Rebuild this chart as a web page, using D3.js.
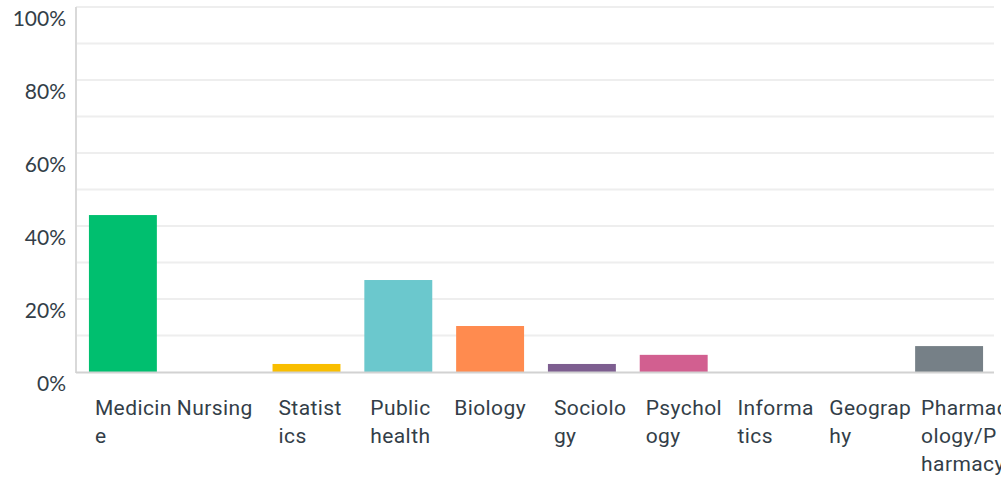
<!DOCTYPE html>
<html>
<head>
<meta charset="utf-8">
<script src="https://cdn.jsdelivr.net/npm/d3@7"></script>
<style>
  body { margin: 0; background: #fff; }
  svg { display: block; }
</style>
</head>
<body>
<svg id="chart" width="1001" height="480"></svg>
<script>
// answer choices and share of respondents (%)
var categories = ["Medicine", "Nursing", "Statistics", "Public health", "Biology",
                  "Sociology", "Psychology", "Informatics", "Geography", "Pharmacology/Pharmacy"];
var values = [43.0, 0, 2.2, 25.2, 12.6, 2.2, 4.7, 0, 0, 7.1];
var colors = ["#00bf6f", "#507cb6", "#f9be00", "#6bc8cd", "#ff8b4f",
              "#7d5e90", "#d25f90", "#abb325", "#f05b24", "#768087"];
var yTicks = [0, 20, 40, 60, 80, 100];

var svg = d3.select("#chart");

var plotLeft = 76, plotRight = 994, plotTop = 7, plotBottom = 372;

var xScale = d3.scaleBand()
  .domain(categories)
  .range([plotLeft + 1, plotRight + 1])
  .paddingInner(0.26)
  .paddingOuter(0.13);

var yScale = d3.scaleLinear()
  .domain([0, 100])
  .range([plotBottom, plotTop]);

//light gridlines every 10%
svg.append("g")
  .selectAll("line")
  .data(d3.range(10, 101, 10))
  .enter().append("line")
  .attr("x1", plotLeft)
  .attr("x2", plotRight)
  .attr("y1", function (d) { return yScale(d); })
  .attr("y2", function (d) { return yScale(d); })
  .attr("stroke", "#eeeeee")
  .attr("stroke-width", 2);

//bars
svg.append("g")
  .selectAll("rect")
  .data(values)
  .enter().append("rect")
  .attr("x", function (d, i) { return xScale(categories[i]); })
  .attr("width", xScale.bandwidth())
  .attr("y", function (d) { return yScale(d); })
  .attr("height", function (d) { return plotBottom - yScale(d); })
  .attr("fill", function (d, i) { return colors[i]; });

//axes lines
svg.append("line")
  .attr("x1", plotLeft).attr("x2", plotLeft)
  .attr("y1", plotTop).attr("y2", plotBottom + 1)
  .attr("stroke", "#d9d9d9").attr("stroke-width", 2);
svg.append("line")
  .attr("x1", plotLeft).attr("x2", plotRight)
  .attr("y1", plotBottom + 0.5).attr("y2", plotBottom + 0.5)
  .attr("stroke", "#d2d2d2").attr("stroke-width", 2);

//y labels
var laxis = d3.axisLeft(yScale)
  .tickValues(yTicks)
  .tickSize(0)
  .tickPadding(10)
  .tickFormat(function (d) { return d + "%"; });

var yg = svg.append("g")
  .attr("transform", "translate(" + plotLeft + ",12)")
  .call(laxis);
yg.select(".domain").remove();
yg.selectAll("text")
  .attr("fill", "#333e48")
  .style("font-family", "Lato, sans-serif")
  .style("font-size", "21px");

//x labels: words kept whole when they fit, long words cut every 7 characters
var maxChars = 7;
var labelFont = "Roboto, sans-serif", labelSize = "21px";

function wrap(label) {
  var lines = [];
  var line = "";
  label.split(" ").forEach(function (w) {
    var test = line ? line + " " + w : w;
    if (test.length <= maxChars) { line = test; return; }
    if (line) lines.push(line);
    while (w.length > maxChars) {
      lines.push(w.slice(0, maxChars));
      w = w.slice(maxChars);
    }
    line = w;
  });
  if (line) lines.push(line);
  return lines;
}

categories.forEach(function (c) {
  var lines = wrap(c);
  var cx = xScale(c) + xScale.bandwidth() / 2;
  var t = svg.append("text")
    .attr("fill", "#333e48")
    .style("font-family", labelFont)
    .style("font-size", labelSize)
    .style("letter-spacing", "0.4px")
    .attr("text-anchor", lines.length > 1 ? "start" : "middle");
  lines.forEach(function (l, i) {
    t.append("tspan")
      .attr("x", lines.length > 1 ? cx - 28 : cx)
      .attr("y", 415 + i * 28)
      .text(l);
  });
});
</script>
</body>
</html>
